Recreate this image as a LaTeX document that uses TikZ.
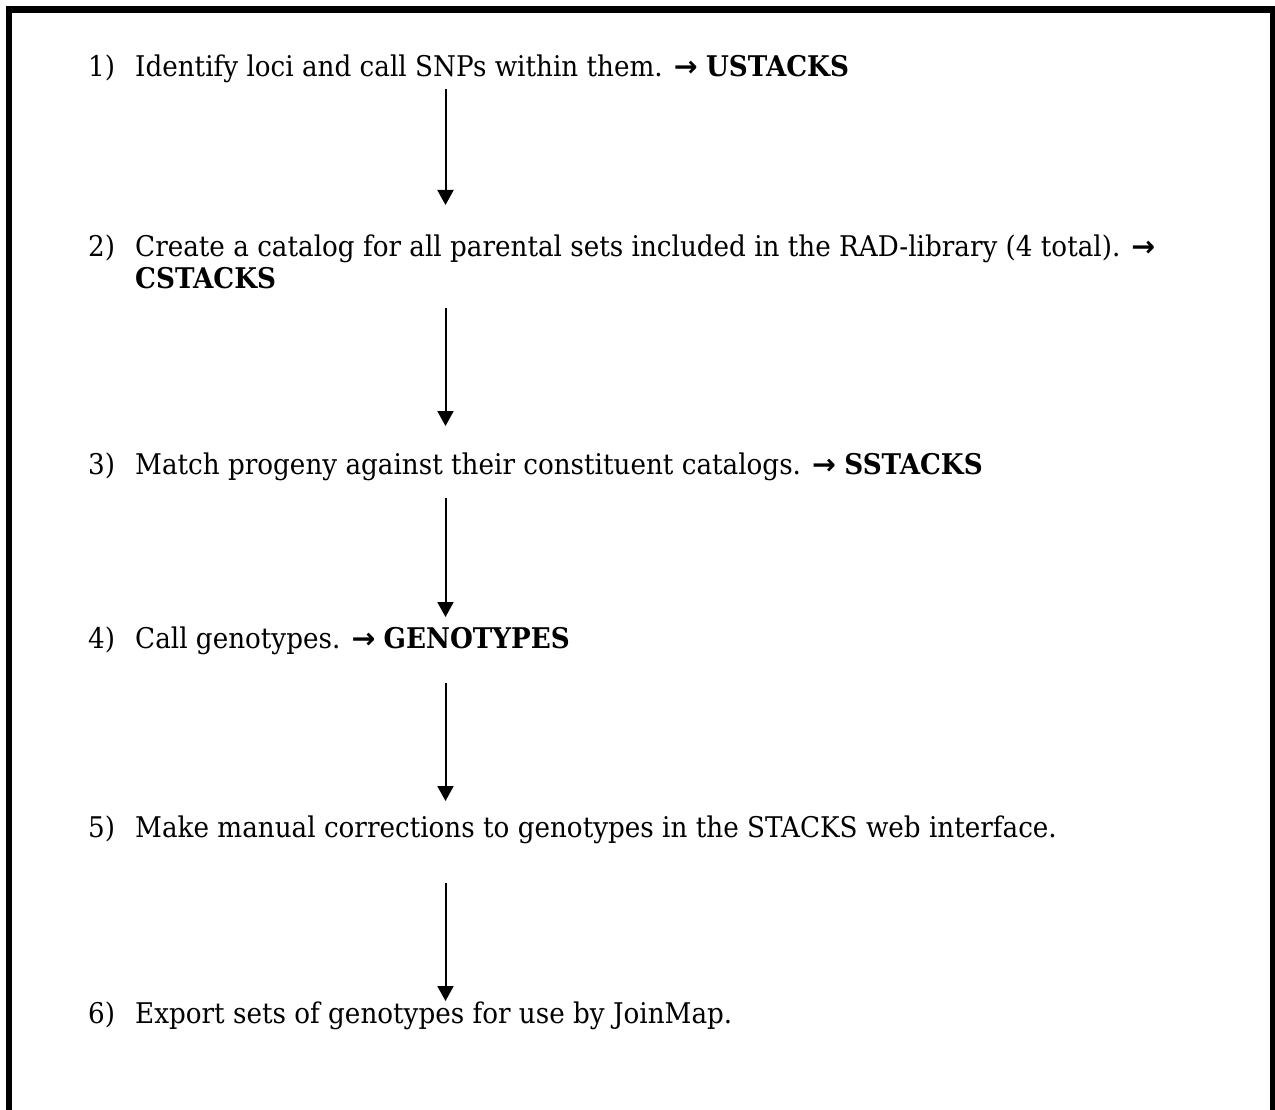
\documentclass[tikz,border=0pt]{standalone}
\usepackage{fontspec}
\setmainfont[FakeStretch=0.92]{DejaVu Serif}
\newfontfamily\arrowfont{DejaVu Sans}
\usetikzlibrary{arrows.meta}
\newcommand{\ra}{{\arrowfont\bfseries →}}
\begin{document}
\begin{tikzpicture}[x=1pt,y=-1pt,
  txt/.style={anchor=base west,inner sep=0pt,font=\fontsize{28.5}{34}\selectfont},
  flow/.style={line width=2pt,-{Triangle[length=15pt,width=16pt]}},
  frame/.style={line width=6.5pt}]
\useasboundingbox (0,0) rectangle (1275,1110);
\draw[frame] (9,9.5) rectangle (1273.5,1140);
% step numbers
\node[txt] (n1) at (88,77) {1)};
\node[txt] (n2) at (88,257) {2)};
\node[txt] (n3) at (88,474) {3)};
\node[txt] (n4) at (88,648) {4)};
\node[txt] (n5) at (88,837) {5)};
\node[txt] (n6) at (88,1023) {6)};
% step texts
\node[txt] (t1) at (135,77) {Identify loci and call SNPs within them. \ra\ \textbf{USTACKS}};
\node[txt] (t2) at (135,257) {Create a catalog for all parental sets included in the RAD-library (4 total). \ra};
\node[txt] (t2b) at (135,288) {\textbf{CSTACKS}};
\node[txt] (t3) at (135,474) {Match progeny against their constituent catalogs. \ra\ \textbf{SSTACKS}};
\node[txt] (t4) at (135,648) {Call genotypes. \ra\ \textbf{GENOTYPES}};
\node[txt] (t5) at (135,837) {Make manual corrections to genotypes in the STACKS web interface.};
\node[txt] (t6) at (135,1023) {Export sets of genotypes for use by JoinMap.};
% arrow ends
\coordinate (a1) at (445.5,89);  \coordinate (b1) at (445.5,205);
\coordinate (a2) at (445.5,308); \coordinate (b2) at (445.5,426);
\coordinate (a3) at (445.5,498); \coordinate (b3) at (445.5,617);
\coordinate (a4) at (445.5,683); \coordinate (b4) at (445.5,801);
\coordinate (a5) at (445.5,883); \coordinate (b5) at (445.5,1001);
\foreach \i in {1,...,5} \draw[flow] (a\i) -- (b\i);
\end{tikzpicture}
\end{document}
